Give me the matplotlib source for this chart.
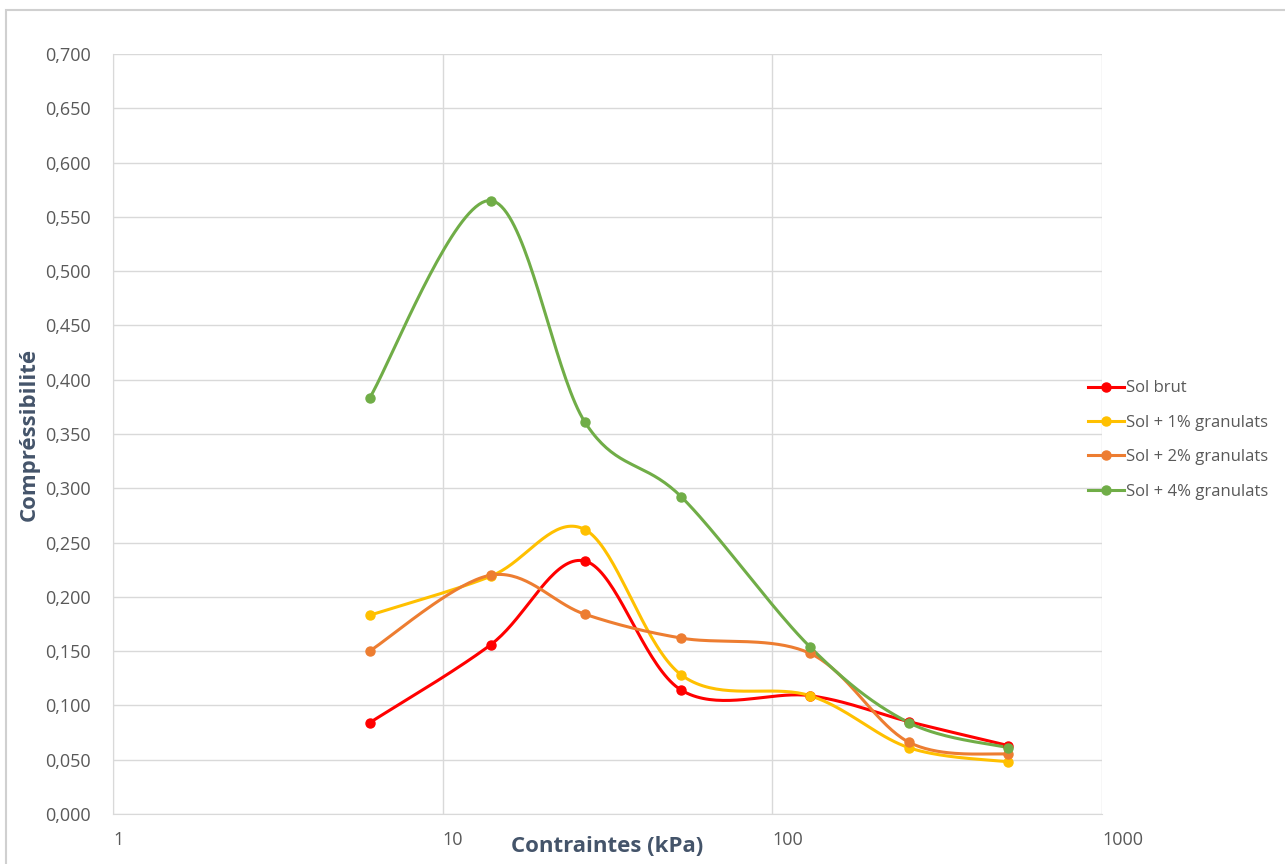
import numpy as np
import matplotlib
matplotlib.use('Agg')
from matplotlib import pyplot as plt
from matplotlib.patches import Rectangle
from matplotlib.ticker import FixedLocator, FuncFormatter

plt.rcParams['font.family'] = ['Open Sans', 'DejaVu Sans']

# contraintes (kPa) for each load step
contraintes = [6, 14, 27, 53, 130, 260, 520]

sol_brut = [0.084, 0.156, 0.233, 0.114, 0.109, 0.085, 0.063]
sol_1pc = [0.183, 0.219, 0.262, 0.128, 0.109, 0.061, 0.048]
sol_2pc = [0.150, 0.220, 0.184, 0.162, 0.148, 0.066, 0.055]
sol_4pc = [0.383, 0.565, 0.361, 0.292, 0.154, 0.084, 0.061]

series = [
    ('Sol brut', sol_brut, '#ff0000'),
    ('Sol + 1% granulats', sol_1pc, '#ffc000'),
    ('Sol + 2% granulats', sol_2pc, '#ed7d31'),
    ('Sol + 4% granulats', sol_4pc, '#70ad47'),
]

yticks = np.arange(0, 0.7001, 0.05)
xticks = [1, 10, 100, 1000]


def smooth(xs, ys, sx=989 / 3.0, sy=760 / 0.7, n=40):
    # bezier smoothing in screen-like units (log x), like spreadsheet smoothed lines
    px = np.log10(np.asarray(xs, float)) * sx
    py = np.asarray(ys, float) * sy
    pts = np.column_stack([px, py])
    out = [pts[0]]
    t = np.linspace(0, 1, n)[1:, None]
    for i in range(len(pts) - 1):
        p0 = pts[max(i - 1, 0)]
        p1 = pts[i]
        p2 = pts[i + 1]
        p3 = pts[min(i + 2, len(pts) - 1)]
        c1 = p1 + (p2 - p0) / 6.0
        c2 = p2 - (p3 - p1) / 6.0
        seg = ((1 - t) ** 3) * p1 + 3 * ((1 - t) ** 2) * t * c1 + 3 * (1 - t) * t ** 2 * c2 + t ** 3 * p2
        out.extend(seg)
    out = np.array(out)
    return 10 ** (out[:, 0] / sx), out[:, 1] / sy


fig = plt.figure(figsize=(12.85, 8.64), dpi=100)
ax = fig.add_axes([113 / 1285, 1 - 814 / 864, (1102 - 113) / 1285, (814 - 54) / 864])

for name, vals, col in series:
    sxs, sys_ = smooth(contraintes, vals)
    ax.plot(sxs, sys_, color=col, lw=2.2, solid_capstyle='round', zorder=3)
    ax.plot(contraintes, vals, 'o', color=col, ms=6.5, zorder=4)
    ax.plot([], [], '-o', color=col, lw=2.2, ms=6.5, label=name)

ax.set_xscale('log')
ax.set_xlim(1, 1000)
ax.set_ylim(0, 0.7)
ax.xaxis.set_major_locator(FixedLocator(xticks))
ax.xaxis.set_minor_locator(FixedLocator([]))
ax.xaxis.set_major_formatter(FuncFormatter(lambda v, p: '%d' % v))
ax.set_yticks(yticks)
ax.yaxis.set_major_formatter(FuncFormatter(lambda v, p: ('%.3f' % v).replace('.', ',')))

ax.grid(True, color='#d9d9d9', lw=1)
ax.set_axisbelow(True)
for s in ['top', 'right']:
    ax.spines[s].set_visible(False)
ax.spines['left'].set_color('#d9d9d9')
ax.spines['bottom'].set_color('#d9d9d9')
ax.tick_params(length=0, labelsize=13, colors='#595959')
ax.tick_params(axis='y', pad=16)
ax.tick_params(axis='x', pad=12)
for lbl in ax.get_xticklabels():
    lbl.set_horizontalalignment('left')

ax.set_ylabel('Compréssibilité', fontsize=16, fontweight='bold', color='#44546a', labelpad=4)
ax.set_xlabel('Contraintes (kPa)', fontsize=16, fontweight='bold', color='#44546a', labelpad=-9)

leg = ax.legend(loc='center left', bbox_to_anchor=((1081 - 113) / 989, (814 - 440) / 760),
                frameon=False, fontsize=12, labelcolor='#595959', handlelength=2.2,
                handletextpad=0.1, labelspacing=1.1, borderaxespad=0)

# outer chart border
fig.patches.append(Rectangle((6 / 1285, -0.1), 1.2, (864 - 10) / 864 + 0.1,
                             transform=fig.transFigure, fill=False,
                             edgecolor='#d0d0d0', lw=1.5))

fig.savefig('out.png', dpi=100)
